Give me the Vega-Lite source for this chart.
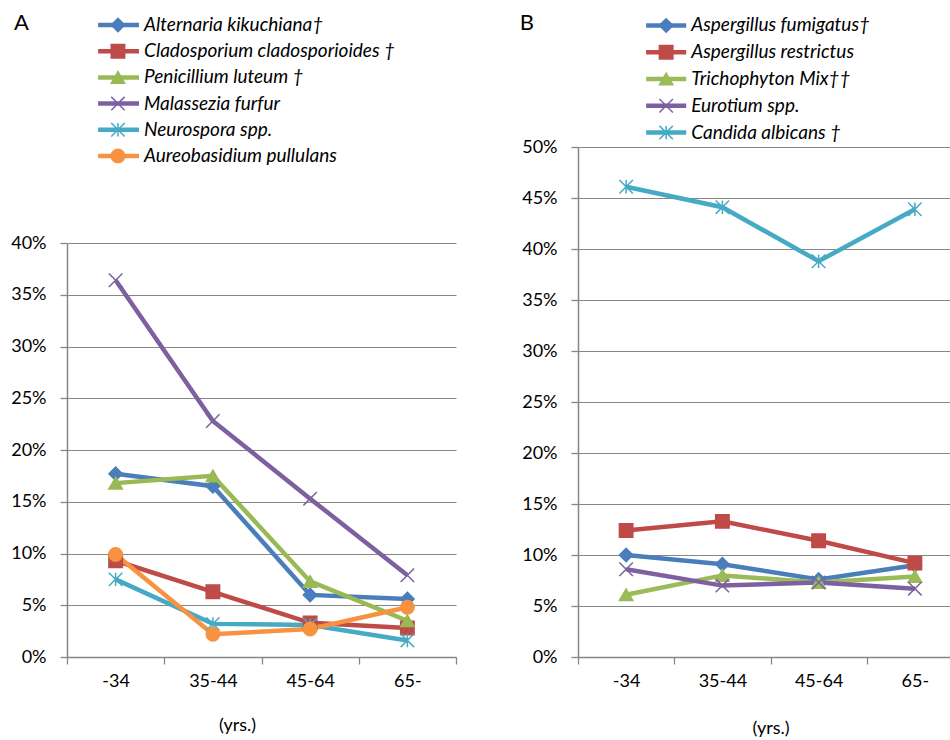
{
  "$schema": "https://vega.github.io/schema/vega-lite/v6.json",
  "padding": {"left": 10, "top": 12, "right": -10, "bottom": 0},
  "background": "white",
  "config": {
    "font": "Lato",
    "view": {"stroke": null},
    "axis": {
      "labelFont": "Lato", "labelFontSize": 18, "labelColor": "#000000",
      "titleFont": "Lato", "titleFontSize": 18, "titleFontWeight": "normal", "titleColor": "#000000",
      "domainColor": "#868686", "domainWidth": 1.5, "tickColor": "#868686", "tickWidth": 1.3, "tickSize": 7,
      "gridColor": "#868686", "gridWidth": 1.2
    }
  },
  "datasets": {
    "a": [
      {"s": "Alternaria kikuchiana†", "age": "-34", "v": 17.7},
      {"s": "Alternaria kikuchiana†", "age": "35-44", "v": 16.5},
      {"s": "Alternaria kikuchiana†", "age": "45-64", "v": 6.0},
      {"s": "Alternaria kikuchiana†", "age": "65-", "v": 5.6},
      {"s": "Cladosporium cladosporioides †", "age": "-34", "v": 9.3},
      {"s": "Cladosporium cladosporioides †", "age": "35-44", "v": 6.3},
      {"s": "Cladosporium cladosporioides †", "age": "45-64", "v": 3.3},
      {"s": "Cladosporium cladosporioides †", "age": "65-", "v": 2.8},
      {"s": "Penicillium luteum †", "age": "-34", "v": 16.8},
      {"s": "Penicillium luteum †", "age": "35-44", "v": 17.5},
      {"s": "Penicillium luteum †", "age": "45-64", "v": 7.3},
      {"s": "Penicillium luteum †", "age": "65-", "v": 3.5},
      {"s": "Malassezia furfur", "age": "-34", "v": 36.4},
      {"s": "Malassezia furfur", "age": "35-44", "v": 22.8},
      {"s": "Malassezia furfur", "age": "45-64", "v": 15.3},
      {"s": "Malassezia furfur", "age": "65-", "v": 7.9},
      {"s": "Neurospora spp.", "age": "-34", "v": 7.5},
      {"s": "Neurospora spp.", "age": "35-44", "v": 3.2},
      {"s": "Neurospora spp.", "age": "45-64", "v": 3.1},
      {"s": "Neurospora spp.", "age": "65-", "v": 1.6},
      {"s": "Aureobasidium pullulans", "age": "-34", "v": 9.9},
      {"s": "Aureobasidium pullulans", "age": "35-44", "v": 2.2},
      {"s": "Aureobasidium pullulans", "age": "45-64", "v": 2.7},
      {"s": "Aureobasidium pullulans", "age": "65-", "v": 4.8}
    ],
    "b": [
      {"s": "Aspergillus fumigatus†", "age": "-34", "v": 10.0},
      {"s": "Aspergillus fumigatus†", "age": "35-44", "v": 9.1},
      {"s": "Aspergillus fumigatus†", "age": "45-64", "v": 7.6},
      {"s": "Aspergillus fumigatus†", "age": "65-", "v": 9.0},
      {"s": "Aspergillus restrictus", "age": "-34", "v": 12.4},
      {"s": "Aspergillus restrictus", "age": "35-44", "v": 13.3},
      {"s": "Aspergillus restrictus", "age": "45-64", "v": 11.4},
      {"s": "Aspergillus restrictus", "age": "65-", "v": 9.2},
      {"s": "Trichophyton Mix††", "age": "-34", "v": 6.1},
      {"s": "Trichophyton Mix††", "age": "35-44", "v": 8.0},
      {"s": "Trichophyton Mix††", "age": "45-64", "v": 7.3},
      {"s": "Trichophyton Mix††", "age": "65-", "v": 7.9},
      {"s": "Eurotium spp.", "age": "-34", "v": 8.6},
      {"s": "Eurotium spp.", "age": "35-44", "v": 7.0},
      {"s": "Eurotium spp.", "age": "45-64", "v": 7.3},
      {"s": "Eurotium spp.", "age": "65-", "v": 6.7},
      {"s": "Candida albicans †", "age": "-34", "v": 46.1},
      {"s": "Candida albicans †", "age": "35-44", "v": 44.1},
      {"s": "Candida albicans †", "age": "45-64", "v": 38.8},
      {"s": "Candida albicans †", "age": "65-", "v": 43.9}
    ],
    "la": [
      {"s": "Alternaria kikuchiana†"},
      {"s": "Cladosporium cladosporioides †"},
      {"s": "Penicillium luteum †"},
      {"s": "Malassezia furfur"},
      {"s": "Neurospora spp."},
      {"s": "Aureobasidium pullulans"}
    ],
    "lb": [
      {"s": "Aspergillus fumigatus†"},
      {"s": "Aspergillus restrictus"},
      {"s": "Trichophyton Mix††"},
      {"s": "Eurotium spp."},
      {"s": "Candida albicans †"}
    ]
  },
  "hconcat": [
    {
      "vconcat": [
        {
          "width": 389, "height": 157,
          "data": {"name": "la"},
          "encoding": {
            "y": {"field": "s", "type": "nominal", "axis": null,
                  "scale": {"type": "point", "padding": 0.5, "domain": ["Alternaria kikuchiana†", "Cladosporium cladosporioides †", "Penicillium luteum †", "Malassezia furfur", "Neurospora spp.", "Aureobasidium pullulans"]}}
          },
          "layer": [
            {
              "mark": {"type": "rule", "strokeWidth": 4.5},
              "encoding": {
                "x": {"datum": 0.08, "type": "quantitative", "axis": null, "scale": {"domain": [0, 1]}},
                "x2": {"datum": 0.185},
                "color": {"field": "s", "type": "nominal", "legend": null,
                          "scale": {"domain": ["Alternaria kikuchiana†", "Cladosporium cladosporioides †", "Penicillium luteum †", "Malassezia furfur", "Neurospora spp.", "Aureobasidium pullulans"],
                                    "range": ["#4A7EBB", "#BE4B48", "#98B954", "#7D60A0", "#46AAC5", "#F69240"]}}
              }
            },
            {
              "mark": {"type": "point", "filled": true, "opacity": 1, "size": 180, "strokeWidth": 1.5},
              "encoding": {
                "x": {"datum": 0.131, "type": "quantitative"},
                "color": {"field": "s", "type": "nominal", "legend": null},
                "stroke": {"field": "s", "type": "nominal", "legend": null,
                           "scale": {"domain": ["Alternaria kikuchiana†", "Cladosporium cladosporioides †", "Penicillium luteum †", "Malassezia furfur", "Neurospora spp.", "Aureobasidium pullulans"],
                                     "range": ["#4A7EBB", "#BE4B48", "#98B954", "#7D60A0", "#46AAC5", "#F69240"]}},
                "shape": {"field": "s", "type": "nominal", "legend": null,
                          "scale": {"domain": ["Alternaria kikuchiana†", "Cladosporium cladosporioides †", "Penicillium luteum †", "Malassezia furfur", "Neurospora spp.", "Aureobasidium pullulans"],
                                    "range": ["diamond", "square", "triangle-up", "M-1,-1L1,1M-1,1L1,-1", "M-1,-1L1,1M-1,1L1,-1M0,-1L0,1", "circle"]}}
              }
            },
            {
              "mark": {"type": "text", "align": "left", "baseline": "middle", "fontSize": 19, "fontStyle": "italic", "color": "#000000"},
              "encoding": {
                "x": {"datum": 0.198, "type": "quantitative"},
                "text": {"field": "s", "type": "nominal"}
              }
            },
            {
              "data": {"values": [{"t": "A"}]},
              "mark": {"type": "text", "align": "left", "baseline": "middle", "fontSize": 22, "color": "#000000", "dy": -2},
              "encoding": {
                "x": {"datum": -0.136, "type": "quantitative"},
                "y": {"datum": "Alternaria kikuchiana†"},
                "text": {"field": "t", "type": "nominal"}
              }
            }
          ]
        },
        {
          "width": 389, "height": 414,
          "data": {"name": "a"},
          "encoding": {
            "x": {"field": "age", "type": "ordinal", "bandPosition": 0.5,
                  "sort": ["-34", "35-44", "45-64", "65-"],
                  "scale": {"type": "band", "paddingInner": 0, "paddingOuter": 0},
                  "axis": {"title": "(yrs.)", "labelAngle": 0, "tickBand": "extent", "grid": false, "labelPadding": 8,
                           "titleX": 170, "titleY": 68, "titleBaseline": "middle"}},
            "y": {"field": "v", "type": "quantitative",
                  "scale": {"domain": [0, 40]},
                  "axis": {"title": null, "values": [0, 5, 10, 15, 20, 25, 30, 35, 40], "labelExpr": "datum.value + '%'", "labelPadding": 14, "grid": true}},
            "color": {"field": "s", "type": "nominal", "legend": null,
                      "scale": {"domain": ["Alternaria kikuchiana†", "Cladosporium cladosporioides †", "Penicillium luteum †", "Malassezia furfur", "Neurospora spp.", "Aureobasidium pullulans"],
                                "range": ["#4A7EBB", "#BE4B48", "#98B954", "#7D60A0", "#46AAC5", "#F69240"]}}
          },
          "layer": [
            {
              "mark": {"type": "line", "strokeWidth": 4.5},
              "encoding": {"detail": {"field": "s"}}
            },
            {
              "mark": {"type": "point", "filled": true, "opacity": 1, "size": 180, "strokeWidth": 1.5},
              "encoding": {
                "stroke": {"field": "s", "type": "nominal", "legend": null,
                           "scale": {"domain": ["Alternaria kikuchiana†", "Cladosporium cladosporioides †", "Penicillium luteum †", "Malassezia furfur", "Neurospora spp.", "Aureobasidium pullulans"],
                                     "range": ["#4A7EBB", "#BE4B48", "#98B954", "#7D60A0", "#46AAC5", "#F69240"]}},
                "shape": {"field": "s", "type": "nominal", "legend": null,
                          "scale": {"domain": ["Alternaria kikuchiana†", "Cladosporium cladosporioides †", "Penicillium luteum †", "Malassezia furfur", "Neurospora spp.", "Aureobasidium pullulans"],
                                    "range": ["diamond", "square", "triangle-up", "M-1,-1L1,1M-1,1L1,-1", "M-1,-1L1,1M-1,1L1,-1M0,-1L0,1", "circle"]}}
              }
            }
          ]
        }
      ],
      "spacing": 74,
      "bounds": "flush"
    },
    {
      "vconcat": [
        {
          "width": 385, "height": 134,
          "data": {"name": "lb"},
          "encoding": {
            "y": {"field": "s", "type": "nominal", "axis": null,
                  "scale": {"type": "point", "padding": 0.5, "domain": ["Aspergillus fumigatus†", "Aspergillus restrictus", "Trichophyton Mix††", "Eurotium spp.", "Candida albicans †"]}}
          },
          "layer": [
            {
              "mark": {"type": "rule", "strokeWidth": 4.5},
              "encoding": {
                "x": {"datum": 0.177, "type": "quantitative", "axis": null, "scale": {"domain": [0, 1]}},
                "x2": {"datum": 0.281},
                "color": {"field": "s", "type": "nominal", "legend": null,
                          "scale": {"domain": ["Aspergillus fumigatus†", "Aspergillus restrictus", "Trichophyton Mix††", "Eurotium spp.", "Candida albicans †"],
                                    "range": ["#4A7EBB", "#BE4B48", "#9BBB59", "#7D60A0", "#46AAC5"]}}
              }
            },
            {
              "mark": {"type": "point", "filled": true, "opacity": 1, "size": 180, "strokeWidth": 1.5},
              "encoding": {
                "x": {"datum": 0.229, "type": "quantitative"},
                "color": {"field": "s", "type": "nominal", "legend": null},
                "stroke": {"field": "s", "type": "nominal", "legend": null,
                           "scale": {"domain": ["Aspergillus fumigatus†", "Aspergillus restrictus", "Trichophyton Mix††", "Eurotium spp.", "Candida albicans †"],
                                     "range": ["#4A7EBB", "#BE4B48", "#9BBB59", "#7D60A0", "#46AAC5"]}},
                "shape": {"field": "s", "type": "nominal", "legend": null,
                          "scale": {"domain": ["Aspergillus fumigatus†", "Aspergillus restrictus", "Trichophyton Mix††", "Eurotium spp.", "Candida albicans †"],
                                    "range": ["diamond", "square", "triangle-up", "M-1,-1L1,1M-1,1L1,-1", "M-1,-1L1,1M-1,1L1,-1M0,-1L0,1"]}}
              }
            },
            {
              "mark": {"type": "text", "align": "left", "baseline": "middle", "fontSize": 19, "fontStyle": "italic", "color": "#000000"},
              "encoding": {
                "x": {"datum": 0.294, "type": "quantitative"},
                "text": {"field": "s", "type": "nominal"}
              }
            },
            {
              "data": {"values": [{"t": "B"}]},
              "mark": {"type": "text", "align": "left", "baseline": "middle", "fontSize": 22, "color": "#000000", "dy": -2},
              "encoding": {
                "x": {"datum": -0.151, "type": "quantitative"},
                "y": {"datum": "Aspergillus fumigatus†"},
                "text": {"field": "t", "type": "nominal"}
              }
            }
          ]
        },
        {
          "width": 385, "height": 510,
          "data": {"name": "b"},
          "encoding": {
            "x": {"field": "age", "type": "ordinal", "bandPosition": 0.5,
                  "sort": ["-34", "35-44", "45-64", "65-"],
                  "scale": {"type": "band", "paddingInner": 0, "paddingOuter": 0},
                  "axis": {"title": "(yrs.)", "labelAngle": 0, "tickBand": "extent", "grid": false, "labelPadding": 8,
                           "titleY": 71, "titleBaseline": "middle"}},
            "y": {"field": "v", "type": "quantitative",
                  "scale": {"domain": [0, 50]},
                  "axis": {"title": null, "values": [0, 5, 10, 15, 20, 25, 30, 35, 40, 45, 50], "labelExpr": "datum.value + '%'", "labelPadding": 14, "grid": true}},
            "color": {"field": "s", "type": "nominal", "legend": null,
                      "scale": {"domain": ["Aspergillus fumigatus†", "Aspergillus restrictus", "Trichophyton Mix††", "Eurotium spp.", "Candida albicans †"],
                                "range": ["#4A7EBB", "#BE4B48", "#9BBB59", "#7D60A0", "#46AAC5"]}}
          },
          "layer": [
            {
              "mark": {"type": "line", "strokeWidth": 4.5},
              "encoding": {"detail": {"field": "s"}}
            },
            {
              "mark": {"type": "point", "filled": true, "opacity": 1, "size": 180, "strokeWidth": 1.5},
              "encoding": {
                "stroke": {"field": "s", "type": "nominal", "legend": null,
                           "scale": {"domain": ["Aspergillus fumigatus†", "Aspergillus restrictus", "Trichophyton Mix††", "Eurotium spp.", "Candida albicans †"],
                                     "range": ["#4A7EBB", "#BE4B48", "#9BBB59", "#7D60A0", "#46AAC5"]}},
                "shape": {"field": "s", "type": "nominal", "legend": null,
                          "scale": {"domain": ["Aspergillus fumigatus†", "Aspergillus restrictus", "Trichophyton Mix††", "Eurotium spp.", "Candida albicans †"],
                                    "range": ["diamond", "square", "triangle-up", "M-1,-1L1,1M-1,1L1,-1", "M-1,-1L1,1M-1,1L1,-1M0,-1L0,1"]}}
              }
            }
          ]
        }
      ],
      "spacing": 1,
      "bounds": "flush"
    }
  ],
  "spacing": 62,
  "bounds": "full",
  "resolve": {"scale": {"color": "independent", "shape": "independent", "stroke": "independent"}}
}
